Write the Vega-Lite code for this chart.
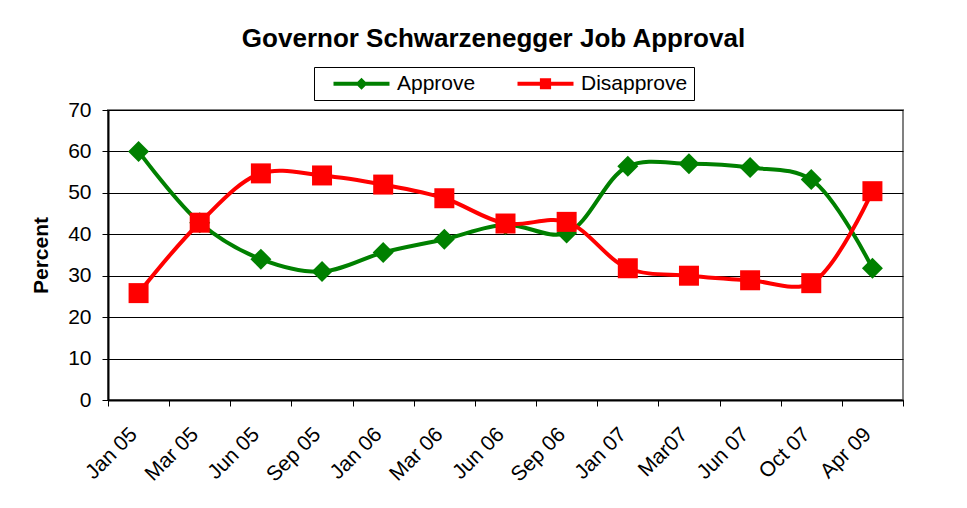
{
  "$schema": "https://vega.github.io/schema/vega-lite/v6.json",
  "width": 795,
  "height": 290,
  "autosize": {"type": "none"},
  "padding": {"left": 108, "top": 110, "right": 64, "bottom": 108},
  "background": "white",
  "title": {
    "text": "Governor Schwarzenegger Job Approval",
    "font": "Liberation Sans",
    "fontSize": 26,
    "fontWeight": "bold",
    "color": "black",
    "anchor": "middle",
    "frame": "group",
    "dx": -12,
    "offset": 15
  },
  "config": {
    "view": {"stroke": "#808080", "strokeWidth": 2},
    "font": "Liberation Sans"
  },
  "data": {
    "values": [
      {"date": "Jan 05", "series": "Approve", "value": 60},
      {"date": "Mar 05", "series": "Approve", "value": 42.8},
      {"date": "Jun 05", "series": "Approve", "value": 34},
      {"date": "Sep 05", "series": "Approve", "value": 31},
      {"date": "Jan 06", "series": "Approve", "value": 35.6},
      {"date": "Mar 06", "series": "Approve", "value": 38.8},
      {"date": "Jun 06", "series": "Approve", "value": 42.3},
      {"date": "Sep 06", "series": "Approve", "value": 40.3},
      {"date": "Jan 07", "series": "Approve", "value": 56.4},
      {"date": "Mar07", "series": "Approve", "value": 57},
      {"date": "Jun 07", "series": "Approve", "value": 56.1},
      {"date": "Oct 07", "series": "Approve", "value": 53.2},
      {"date": "Apr 09", "series": "Approve", "value": 31.8},
      {"date": "Jan 05", "series": "Disapprove", "value": 25.8},
      {"date": "Mar 05", "series": "Disapprove", "value": 42.8},
      {"date": "Jun 05", "series": "Disapprove", "value": 54.7},
      {"date": "Sep 05", "series": "Disapprove", "value": 54.2},
      {"date": "Jan 06", "series": "Disapprove", "value": 52},
      {"date": "Mar 06", "series": "Disapprove", "value": 48.7},
      {"date": "Jun 06", "series": "Disapprove", "value": 42.6},
      {"date": "Sep 06", "series": "Disapprove", "value": 43},
      {"date": "Jan 07", "series": "Disapprove", "value": 31.8},
      {"date": "Mar07", "series": "Disapprove", "value": 30},
      {"date": "Jun 07", "series": "Disapprove", "value": 28.9},
      {"date": "Oct 07", "series": "Disapprove", "value": 28.2},
      {"date": "Apr 09", "series": "Disapprove", "value": 50.4}
    ]
  },
  "encoding": {
    "x": {
      "field": "date",
      "type": "nominal",
      "sort": null,
      "scale": {"type": "band", "paddingInner": 0, "paddingOuter": 0},
      "axis": {
        "title": null,
        "labelAngle": -45,
        "labelAlign": "right",
        "labelBaseline": "middle",
        "labelFontSize": 21,
        "labelColor": "black",
        "labelPadding": 25,
        "labelOffset": -5,
        "tickBand": "extent",
        "tickSize": 6,
        "tickColor": "black",
        "domainColor": "black",
        "domainWidth": 2,
        "grid": false
      }
    },
    "y": {
      "field": "value",
      "type": "quantitative",
      "scale": {"domain": [0, 70], "nice": false},
      "axis": {
        "title": "Percent",
        "titleFontSize": 21,
        "titleFontWeight": "bold",
        "titleColor": "black",
        "titlePadding": 16,
        "values": [0, 10, 20, 30, 40, 50, 60, 70],
        "labelFontSize": 21,
        "labelColor": "black",
        "labelPadding": 11,
        "tickSize": 6,
        "tickColor": "black",
        "domainColor": "black",
        "domainWidth": 2,
        "gridColor": "black",
        "gridOpacity": 1,
        "gridWidth": 1
      }
    },
    "color": {
      "field": "series",
      "type": "nominal",
      "scale": {"domain": ["Approve", "Disapprove"], "range": ["#008000", "#FF0000"]},
      "legend": {
        "title": null,
        "orient": "none",
        "direction": "horizontal",
        "legendX": 206,
        "legendY": -43,
        "labelFontSize": 21,
        "labelColor": "black",
        "labelFont": "Liberation Sans",
        "strokeColor": "black",
        "padding": 6,
        "symbolSize": 256,
        "symbolOffset": 11,
        "labelOffset": 45,
        "columnPadding": 28,
        "encode": {
          "symbols": {
            "update": {
              "shape": {"signal": "datum.value === 'Approve' ? 'M-1,-0.25H6V0.25H-1Z M2.5,-0.75L3.25,0L2.5,0.75L1.75,0Z' : 'M-1,-0.25H6V0.25H-1Z M1.8,-0.7H3.2V0.7H1.8Z'"},
              "fill": {"signal": "datum.value === 'Approve' ? '#008000' : '#FF0000'"},
              "stroke": {"value": "transparent"},
              "strokeWidth": {"value": 0},
              "opacity": {"value": 1},
              "size": {"value": 256}
            }
          }
        }
      }
    }
  },
  "layer": [
    {
      "transform": [{"filter": "datum.series === 'Approve'"}],
      "mark": {"type": "line", "interpolate": "catmull-rom", "strokeWidth": 4}
    },
    {
      "transform": [{"filter": "datum.series === 'Approve'"}],
      "mark": {"type": "point", "filled": true, "opacity": 1, "size": 440, "shape": "diamond"}
    },
    {
      "transform": [{"filter": "datum.series === 'Disapprove'"}],
      "mark": {"type": "line", "interpolate": "catmull-rom", "strokeWidth": 4}
    },
    {
      "transform": [{"filter": "datum.series === 'Disapprove'"}],
      "mark": {"type": "point", "filled": true, "opacity": 1, "size": 400, "shape": "square"}
    }
  ]
}
